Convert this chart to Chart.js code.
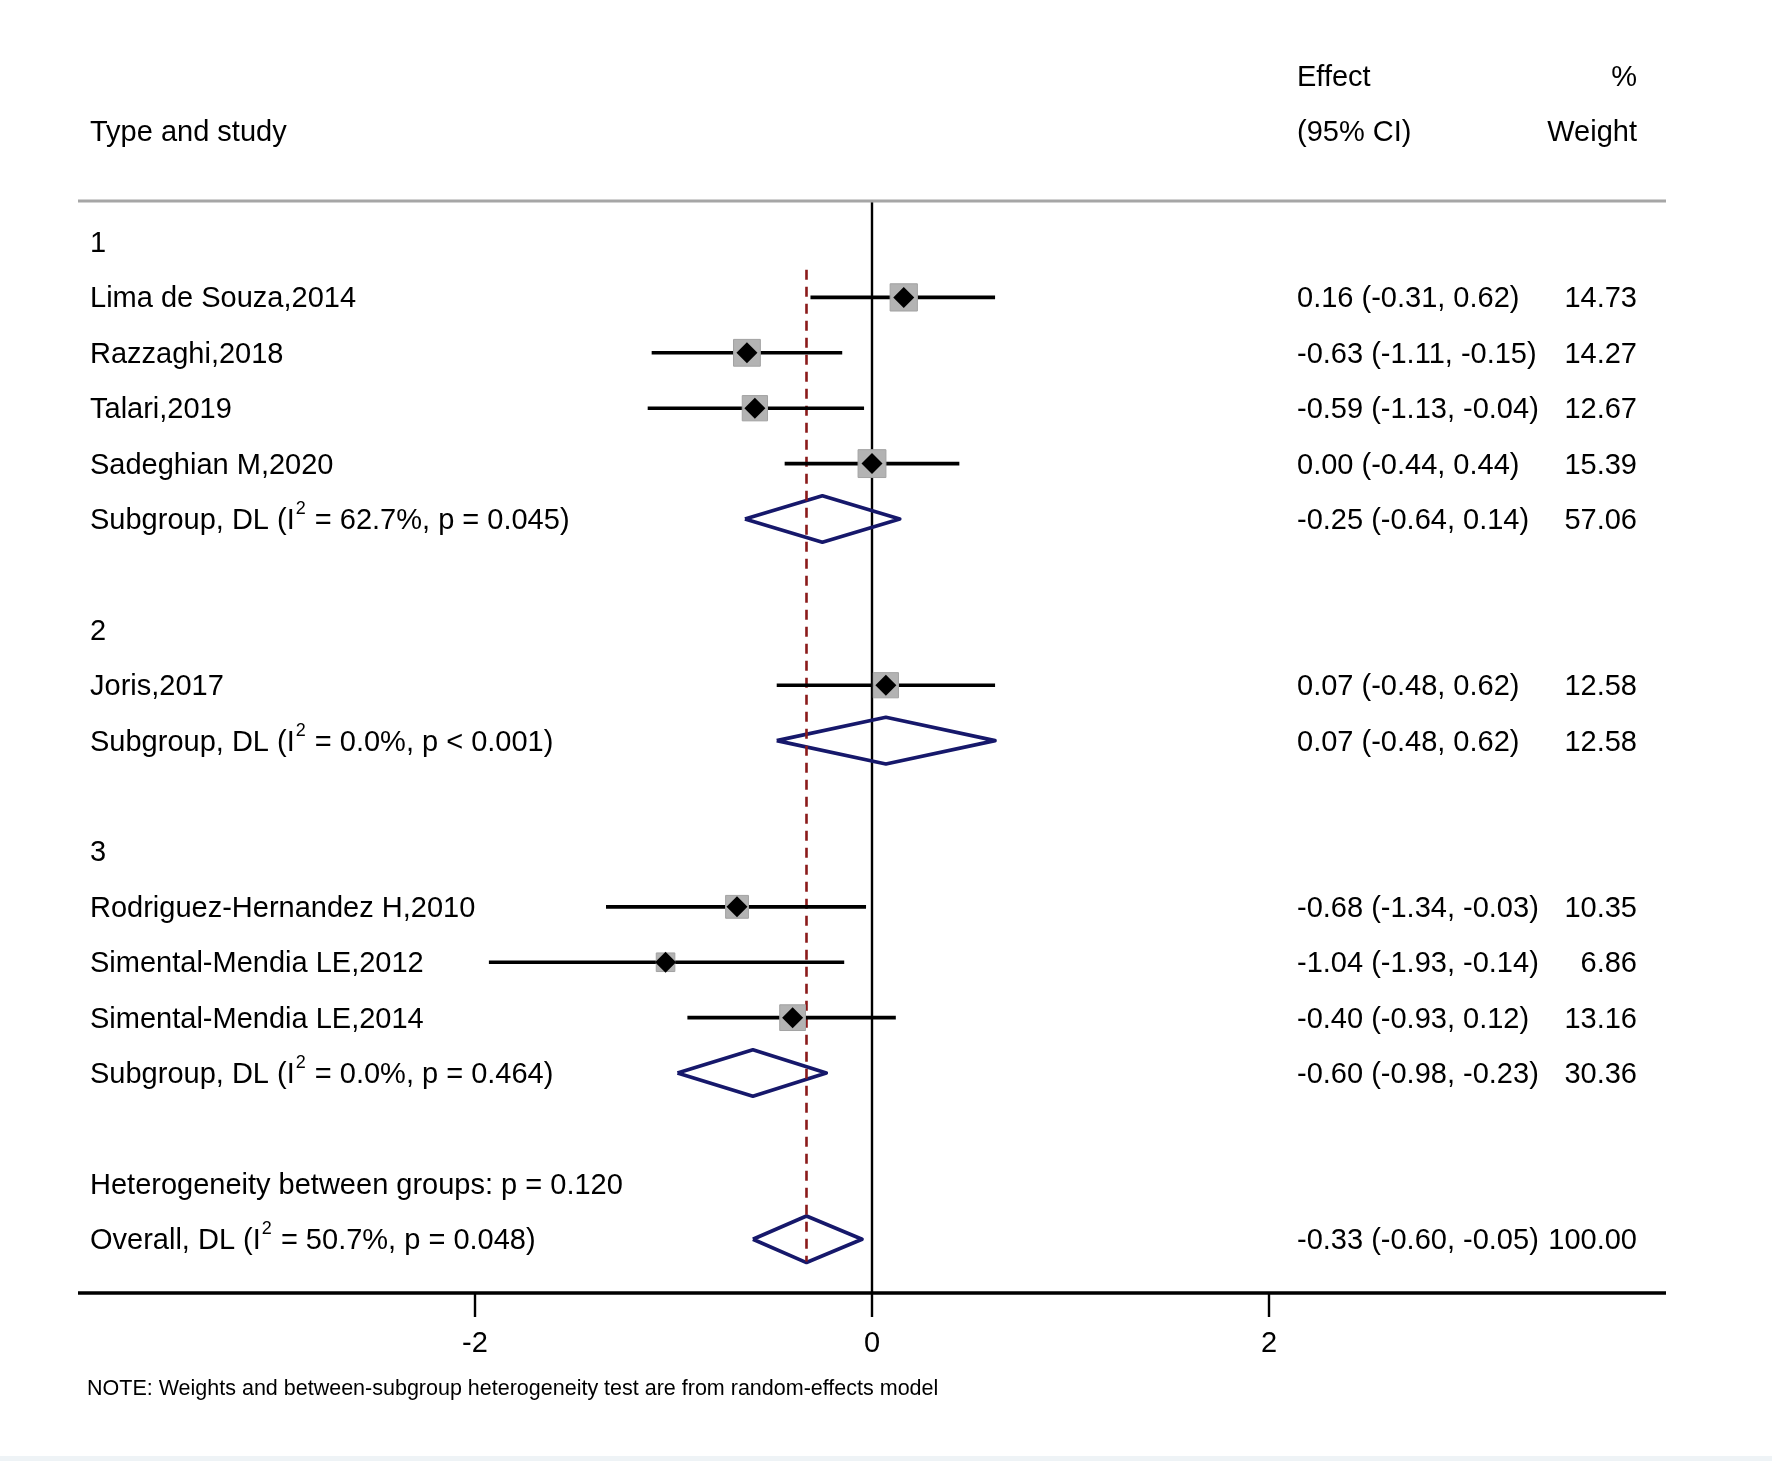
<!DOCTYPE html>
<html>
<head>
<meta charset="utf-8">
<title>Forest plot</title>
<script src="https://cdn.jsdelivr.net/npm/chart.js@4.4.1/dist/chart.umd.min.js"></script>
<style>
	body { margin: 0; background: #ffffff; }
	#forest { display: block; }
</style>
</head>
<body>
<canvas id="forest" width="1772" height="1461"></canvas>
<script>
// study level data
var studyNames = ["Lima de Souza,2014", "Razzaghi,2018", "Talari,2019", "Sadeghian M,2020", "Joris,2017", "Rodriguez-Hernandez H,2010", "Simental-Mendia LE,2012", "Simental-Mendia LE,2014"];
var studyEffect = [0.16, -0.63, -0.59, 0.00, 0.07, -0.68, -1.04, -0.40];
var studyLower = [-0.31, -1.11, -1.13, -0.44, -0.48, -1.34, -1.93, -0.93];
var studyUpper = [0.62, -0.15, -0.04, 0.44, 0.62, -0.03, -0.14, 0.12];
var studyWeight = ["14.73", "14.27", "12.67", "15.39", "12.58", "10.35", "6.86", "13.16"];
var studyRow = [1, 2, 3, 4, 8, 12, 13, 14];

// subgroups
var groupNames = ["1", "2", "3"];
var groupRow = [0, 7, 11];
var subRow = [5, 9, 15];
var subEffect = [-0.25, 0.07, -0.60];
var subLower = [-0.64, -0.48, -0.98];
var subUpper = [0.14, 0.62, -0.23];
var subWeight = ["57.06", "12.58", "30.36"];
var subI2 = ["62.7%", "0.0%", "0.0%"];
var subP = ["p = 0.045", "p < 0.001", "p = 0.464"];

// overall
var overallRow = 18;
var overallEffect = -0.33;
var overallLower = -0.60;
var overallUpper = -0.05;
var overallWeight = "100.00";
var overallI2 = "50.7%";
var overallP = "p = 0.048";
var hetRow = 17;
var hetText = "Heterogeneity between groups: p = 0.120";

var xTicks = [-2, 0, 2];

var FONT = '"Liberation Sans", Arial, sans-serif';
var FS = 29;

function fmt(v) {
	return (v < 0 ? "-" : "") + Math.abs(v).toFixed(2);
}
function ciText(e, l, u) {
	return fmt(e) + " (" + fmt(l) + ", " + fmt(u) + ")";
}

// CI whiskers as one line broken by gaps
var ciData = [];
for (var i = 0; i < studyEffect.length; i++) {
	ciData.push({ x: studyLower[i], y: studyRow[i] });
	ciData.push({ x: studyUpper[i], y: studyRow[i] });
	ciData.push({ x: NaN, y: NaN });
}

var pointData = [];
var boxRadius = [];
for (var i = 0; i < studyEffect.length; i++) {
	pointData.push({ x: studyEffect[i], y: studyRow[i] });
	// box area proportional to weight
	boxRadius.push(7.1 * Math.sqrt(parseFloat(studyWeight[i])) / Math.SQRT2);
}

function diamond(e, l, u, row) {
	var h = 0.42;
	return [
		{ x: l, y: row }, { x: e, y: row - h }, { x: u, y: row },
		{ x: e, y: row + h }, { x: l, y: row }
	];
}

var navy = "#16186b";
var datasets = [
	{ type: "scatter", data: pointData, pointStyle: "rectRot", pointRadius: 10.5, pointBackgroundColor: "#000000", pointBorderWidth: 0 },
	{ type: "scatter", data: pointData, pointStyle: "rect", pointRadius: boxRadius, pointBackgroundColor: "#b3b3b3", pointBorderColor: "#a3a3a3", pointBorderWidth: 1 },
	{ type: "line", data: ciData, borderColor: "#000000", borderWidth: 3.6, pointRadius: 0, spanGaps: false },
	{ type: "line", data: [{ x: overallEffect, y: 0.5 }, { x: overallEffect, y: 18.4 }], borderColor: "#8b1a1a", borderWidth: 2.6, borderDash: [10, 7], pointRadius: 0 }
];
for (var g = 0; g < subEffect.length; g++) {
	datasets.push({ type: "line", data: diamond(subEffect[g], subLower[g], subUpper[g], subRow[g]), borderColor: navy, borderWidth: 3.6, pointRadius: 0, borderJoinStyle: "round" });
}
datasets.push({ type: "line", data: diamond(overallEffect, overallLower, overallUpper, overallRow), borderColor: navy, borderWidth: 3.6, pointRadius: 0, borderJoinStyle: "round" });
// null line at 0
datasets.push({ type: "line", data: [{ x: 0, y: -0.74 }, { x: 0, y: 18.97 }], borderColor: "#000000", borderWidth: 2.4, pointRadius: 0 });

function labelWithI2(ctx, x, y, before, i2, p) {
	ctx.font = FS + "px " + FONT;
	ctx.textAlign = "left";
	ctx.fillText(before, x, y);
	var w = ctx.measureText(before).width;
	ctx.font = "18px " + FONT;
	ctx.fillText("2", x + w + 1, y - 12);
	var w2 = ctx.measureText("2").width;
	ctx.font = FS + "px " + FONT;
	ctx.fillText(" = " + i2 + ", " + p + ")", x + w + w2 + 2, y);
}

var forestText = {
	id: "forestText",
	afterDraw: function (chart) {
		var ctx = chart.ctx;
		var xs = chart.scales.x;
		var ys = chart.scales.y;
		var area = chart.chartArea;
		var left = 90, effX = 1297, wX = 1637, dy = 2;
		function rowY(r) { return ys.getPixelForValue(r) + dy; }
		ctx.save();
		ctx.fillStyle = "#000000";
		ctx.textBaseline = "middle";

		// top rule and x axis
		ctx.strokeStyle = "#a6a6a6";
		ctx.lineWidth = 3;
		ctx.beginPath();
		ctx.moveTo(area.left, area.top);
		ctx.lineTo(area.right, area.top);
		ctx.stroke();
		ctx.strokeStyle = "#000000";
		ctx.lineWidth = 3.6;
		ctx.beginPath();
		ctx.moveTo(area.left, area.bottom);
		ctx.lineTo(area.right, area.bottom);
		ctx.stroke();
		ctx.lineWidth = 2.4;
		ctx.font = FS + "px " + FONT;
		ctx.textAlign = "center";
		for (var t = 0; t < xTicks.length; t++) {
			var px = xs.getPixelForValue(xTicks[t]);
			ctx.beginPath();
			ctx.moveTo(px, area.bottom);
			ctx.lineTo(px, area.bottom + 24);
			ctx.stroke();
			ctx.fillText(String(xTicks[t]), px, area.bottom + 51);
		}

		// headers
		ctx.textAlign = "left";
		ctx.fillText("Type and study", left, rowY(-2));
		ctx.fillText("Effect", effX, rowY(-3));
		ctx.fillText("(95% CI)", effX, rowY(-2));
		ctx.textAlign = "right";
		ctx.fillText("%", wX, rowY(-3));
		ctx.fillText("Weight", wX, rowY(-2));

		// group labels
		ctx.textAlign = "left";
		for (var g = 0; g < groupNames.length; g++) {
			ctx.fillText(groupNames[g], left, rowY(groupRow[g]));
		}
		// studies
		for (var i = 0; i < studyNames.length; i++) {
			var y = rowY(studyRow[i]);
			ctx.textAlign = "left";
			ctx.fillText(studyNames[i], left, y);
			ctx.fillText(ciText(studyEffect[i], studyLower[i], studyUpper[i]), effX, y);
			ctx.textAlign = "right";
			ctx.fillText(studyWeight[i], wX, y);
		}
		// subgroup summaries
		for (var g = 0; g < subRow.length; g++) {
			var y = rowY(subRow[g]);
			labelWithI2(ctx, left, y, "Subgroup, DL (I", subI2[g], subP[g]);
			ctx.textAlign = "left";
			ctx.fillText(ciText(subEffect[g], subLower[g], subUpper[g]), effX, y);
			ctx.textAlign = "right";
			ctx.fillText(subWeight[g], wX, y);
		}
		// heterogeneity and overall
		ctx.textAlign = "left";
		ctx.fillText(hetText, left, rowY(hetRow));
		var oy = rowY(overallRow);
		labelWithI2(ctx, left, oy, "Overall, DL (I", overallI2, overallP);
		ctx.textAlign = "left";
		ctx.fillText(ciText(overallEffect, overallLower, overallUpper), effX, oy);
		ctx.textAlign = "right";
		ctx.fillText(overallWeight, wX, oy);

		// note
		ctx.textAlign = "left";
		ctx.font = "21.5px " + FONT;
		ctx.fillText("NOTE: Weights and between-subgroup heterogeneity test are from random-effects model", 87, area.bottom + 96);

		// light strip at the very bottom
		ctx.fillStyle = "#eef3f6";
		ctx.fillRect(0, 1456, 1772, 5);
		ctx.restore();
	}
};

var ctxa = document.getElementById("forest").getContext("2d");
var forestChart = new Chart(ctxa, {
	type: "scatter",
	data: { datasets: datasets },
	options: {
		responsive: false,
		devicePixelRatio: 1,
		animation: false,
		layout: { padding: { left: 78, right: 106, top: 201, bottom: 168 } },
		plugins: { legend: { display: false }, tooltip: { enabled: false } },
		scales: {
			x: { type: "linear", min: -4, max: 4, display: false },
			y: { type: "linear", min: -0.74, max: 18.97, reverse: true, display: false }
		}
	},
	plugins: [forestText]
});
</script>
</body>
</html>
